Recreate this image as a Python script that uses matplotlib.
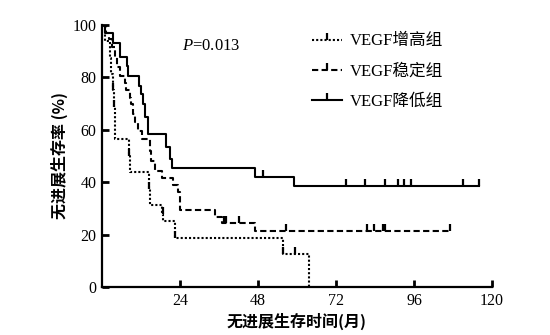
import numpy as np
import matplotlib
matplotlib.use("Agg")
import matplotlib.pyplot as plt
from matplotlib.markers import TICKUP

plt.rcParams['font.family'] = ['Liberation Serif', 'Noto Sans CJK SC']
plt.rcParams['mathtext.fontset'] = 'custom'
plt.rcParams['mathtext.it'] = 'Liberation Serif:italic'
plt.rcParams['mathtext.rm'] = 'Liberation Serif'

# Kaplan-Meier step points (months, % progression-free) for each VEGF group
up_t = [0, 0.9, 2.4, 2.7, 3.4, 3.7, 3.9, 4.1, 8.3, 8.6, 14.4, 14.8, 18.6, 18.9, 22.4, 55.6, 63.8]
up_s = [100, 93.8, 87.5, 81.3, 75.0, 68.8, 62.5, 56.3, 50.0, 43.8, 37.5, 31.3, 28.0, 25.0, 18.8, 12.5, 0]
up_cens = [3.5, 3.8, 8.4, 14.5, 18.7, 22.5, 55.8, 59.4]

st_t = [0, 1.2, 2.0, 3.0, 4.0, 4.5, 5.5, 7.0, 7.5, 8.5, 9.0, 9.5, 10.2, 11.2, 12.2,
        14.7, 15.2, 16.2, 18.4, 21.9, 23.5, 24.0, 34.8, 37.0, 47.0]
st_s = [100, 97.0, 94.5, 91.5, 87.7, 84.0, 80.6, 78.0, 75.0, 72.0, 69.8, 66.0, 62.8, 59.7, 56.5,
        52.0, 48.2, 44.4, 41.5, 39.0, 36.4, 29.4, 26.8, 24.5, 21.5]
st_cens = [37.5, 38.0, 42.0, 56.6, 81.4, 83.8, 86.4, 87.0]
st_end = 107.0

dn_t = [0, 1.0, 3.4, 5.5, 7.6, 8.1, 11.5, 12.0, 12.6, 13.2, 14.2, 19.7, 21.0, 21.5, 47.0, 59.0]
dn_s = [100, 97.0, 93.0, 87.7, 84.5, 80.6, 76.8, 73.7, 69.8, 64.8, 58.4, 53.3, 48.9, 45.5, 42.1, 38.6]
dn_cens = [49.6, 75.0, 81.0, 87.0, 91.0, 93.0, 95.0, 111.0]
dn_end = 116.0

labels = ['VEGF增高组', 'VEGF稳定组', 'VEGF降低组']
p_text = '=0.013'


def level_at(t, s, x):
    idx = np.searchsorted(t, x, side='right') - 1
    return np.asarray(s)[idx]


fig = plt.figure(figsize=(5.5, 3.35), dpi=100)
ax = fig.add_axes([0.1855, 0.1433, 0.709, 0.7821])

groups = [
    (up_t, up_s, up_cens, None, (0, (1, 1))),
    (st_t, st_s, st_cens + [st_end], st_end, (0, (3, 1.6))),
    (dn_t, dn_s, dn_cens + [dn_end], dn_end, '-'),
]
handles = []
for (t, s, cens, end, ls), lab in zip(groups, labels):
    t = list(t)
    s = list(s)
    if end is not None:
        t.append(end)
        s.append(s[-1])
    ax.step(t, s, where='post', color='black', lw=1.5, linestyle=ls)
    cy = level_at(np.array(t), s, np.array(cens))
    ax.plot(cens, cy, linestyle='none', marker=TICKUP, color='black',
            markersize=5, markeredgewidth=1.6)
    h, = ax.plot([], [], color='black', lw=1.5, linestyle=ls, marker=TICKUP,
                 markersize=5, markeredgewidth=1.6)
    handles.append(h)

ax.set_xlim(0, 120)
ax.set_ylim(0, 100)
ax.set_xticks([24, 48, 72, 96, 120])
ax.set_yticks([0, 20, 40, 60, 80, 100])
ax.tick_params(direction='in', length=5, width=2, labelsize=11.5, pad=4)
for side in ['top', 'right']:
    ax.spines[side].set_visible(False)
for side in ['left', 'bottom']:
    ax.spines[side].set_linewidth(1.6)
ax.spines['left'].set_bounds(0, 100)

ax.set_xlabel('无进展生存时间(月)', fontsize=11.5, fontweight='bold',
              family=['Noto Sans CJK SC'], labelpad=3)
ax.set_ylabel('无进展生存率 (%)', fontsize=11.5, fontweight='bold',
              family=['Noto Sans CJK SC'], labelpad=3)

ax.text(0.205, 0.92, r'$\mathit{P}$' + p_text, transform=ax.transAxes,
        fontsize=12, ha='left', va='center')

ax.legend(handles, labels, loc='upper left', bbox_to_anchor=(0.50, 1.025),
          frameon=False, handlelength=1.8, handletextpad=0.45, labelspacing=0.85,
          numpoints=1, fontsize=12)

fig.savefig('out.png', dpi=100)
